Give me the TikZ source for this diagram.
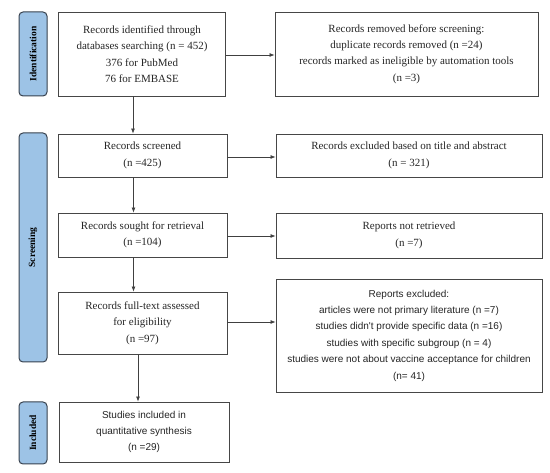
\documentclass[tikz,border=0pt]{standalone}
\usepackage{fontspec}
\setmainfont{Liberation Serif}
\newfontfamily\arialfont{Liberation Sans}
\usetikzlibrary{arrows.meta,calc}
\definecolor{sidefill}{RGB}{157,195,230}
\definecolor{sidedraw}{RGB}{55,65,78}
\definecolor{boxdraw}{RGB}{70,70,70}
\tikzset{
  box/.style={draw=boxdraw,line width=0.9pt,fill=white,align=center,inner sep=2pt,font=\fontsize{11}{16.4}\selectfont,text=black!85},
  sbox/.style={box,font=\arialfont\fontsize{10}{16.4}\selectfont},
  side/.style={draw=sidedraw,line width=1pt,fill=sidefill,rounded corners=4pt,minimum width=28pt},
  sidetext/.style={rotate=90,font=\bfseries\fontsize{9.5}{11}\selectfont},
  arr/.style={draw=black!75,line width=0.7pt,-{Latex[length=5pt,width=4pt]}}
}
\begin{document}
\begin{tikzpicture}[x=1pt,y=1pt]
\useasboundingbox (0,0) rectangle (550,-473);
% side labels
\node[side,minimum height=84pt] (sid) at (33,-54) {};
\node[sidetext] (tid) at (sid.center) {Identification};
\node[side,minimum height=229pt] (ssc) at (33,-247.5) {};
\node[sidetext] (tsc) at (ssc.center) {Screening};
\node[side,minimum height=62pt] (sin) at (33,-433) {};
\node[sidetext] (tin) at (sin.center) {Included};
% left column
\node[box,minimum width=167pt,minimum height=84pt] (b1) at (142,-54) {Records identified through\\databases searching (n = 452)\\376 for PubMed\\76 for EMBASE};
\node[box,minimum width=169pt,minimum height=43pt] (b2) at (142.5,-155.5) {Records screened\\(n =425)};
\node[box,minimum width=169pt,minimum height=44pt] (b3) at (142.5,-235) {Records sought for retrieval\\(n =104)};
\node[box,minimum width=169pt,minimum height=62pt] (b4) at (142.5,-323) {Records full-text assessed\\for eligibility\\(n =97)};
\node[sbox,minimum width=170pt,minimum height=60pt] (b5) at (144,-432) {Studies included in\\quantitative synthesis\\(n =29)};
% right column
\node[box,minimum width=263pt,minimum height=84pt] (r1) at (406.5,-54) {Records removed before screening:\\duplicate records removed (n =24)\\records marked as ineligible by automation tools\\(n =3)};
\node[box,minimum width=266pt,minimum height=43pt] (r2) at (409,-155.5) {Records excluded based on title and abstract\\(n = 321)};
\node[box,minimum width=266pt,minimum height=45pt] (r3) at (409,-235.5) {Reports not retrieved\\(n =7)};
\node[sbox,minimum width=266pt,minimum height=113pt] (r4) at (409,-335.5) {Reports excluded:\\articles were not primary literature (n =7)\\studies didn't provide specific data (n =16)\\studies with specific subgroup (n = 4)\\studies were not about vaccine acceptance for children\\(n= 41)};
% arrows
\draw[arr] ([xshift=-9pt]b1.south) -- ([xshift=-9pt]b1.south |- b2.north);
\draw[arr] ([xshift=-9pt]b2.south) -- ([xshift=-9pt]b2.south |- b3.north);
\draw[arr] ([xshift=-9pt]b3.south) -- ([xshift=-9pt]b3.south |- b4.north);
\draw[arr] ([xshift=-4.5pt]b4.south) -- ([xshift=-4.5pt]b4.south |- b5.north);
\draw[arr] ([yshift=-1pt]b1.east) -- ([yshift=-1pt]b1.east -| r1.west);
\draw[arr] ([yshift=-1.5pt]b2.east) -- ([yshift=-1.5pt]b2.east -| r2.west);
\draw[arr] ([yshift=-1pt]b3.east) -- ([yshift=-1pt]b3.east -| r3.west);
\draw[arr] ([yshift=1pt]b4.east) -- ([yshift=1pt]b4.east -| r4.west);
\end{tikzpicture}
\end{document}
